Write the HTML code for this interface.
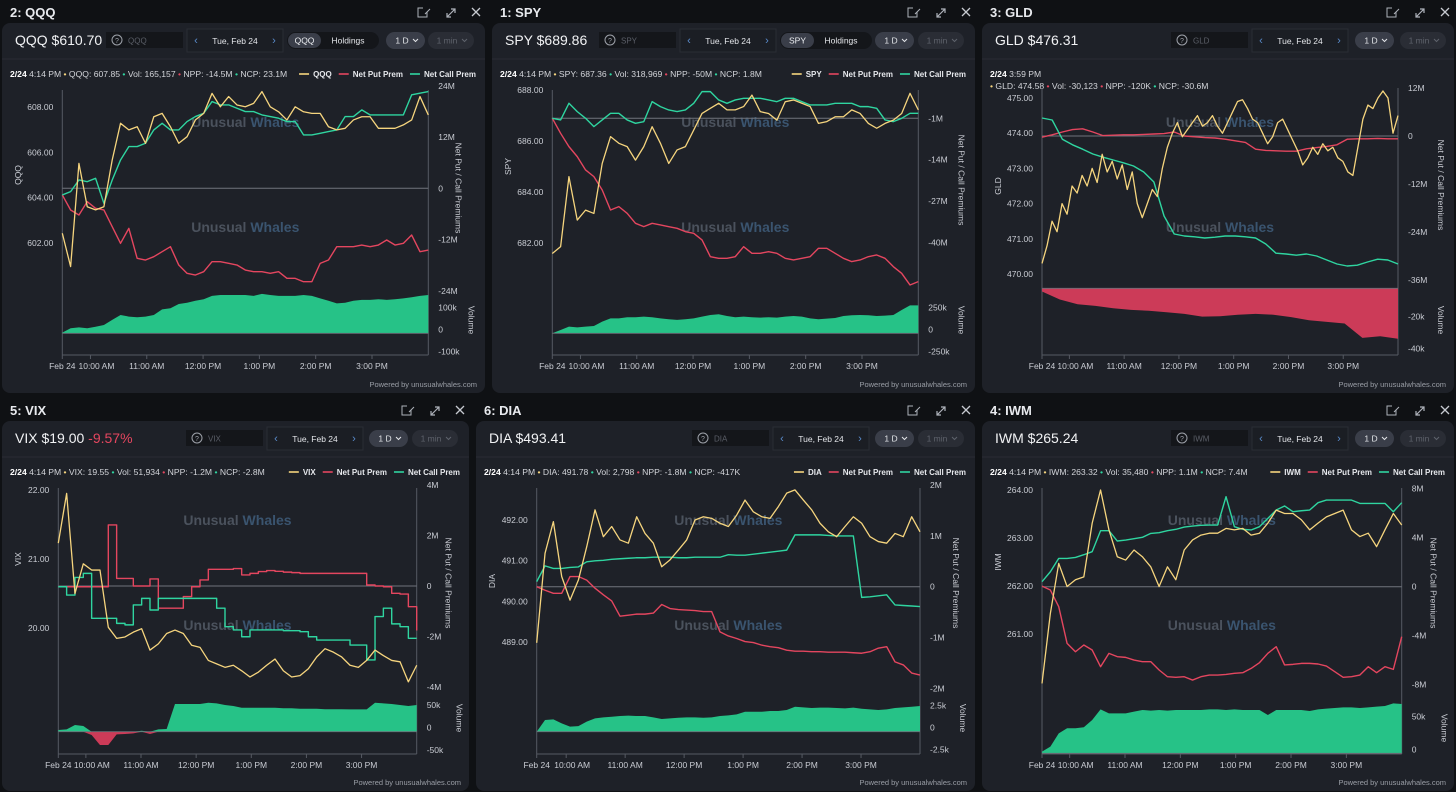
<!DOCTYPE html>
<html><head><meta charset="utf-8">
<style>
html,body{margin:0;padding:0;background:#0f1114;}
svg{display:block;font-family:"Liberation Sans",sans-serif;}
</style></head>
<body>
<svg id="root" width="1456" height="792" viewBox="0 0 1456 792" xmlns="http://www.w3.org/2000/svg">
<rect x="0" y="0" width="1456" height="792" fill="#0f1114"/>
</svg>
<script>
// ---------- DATA ----------
const timeTickMinutes = [600, 660, 720, 780, 840, 900];
const timeTickLabels = ["10:00 AM", "11:00 AM", "12:00 PM", "1:00 PM", "2:00 PM", "3:00 PM"];

const qqqPrice = [602.43,600.96,605.51,603.60,603.46,603.60,605.66,607.28,606.99,607.13,606.40,607.57,607.72,607.13,606.40,606.69,607.43,607.72,608.60,608.01,608.46,608.09,608.01,608.16,608.68,608.01,607.79,607.43,608.01,607.79,607.72,607.72,607.13,606.99,607.06,607.43,607.57,607.57,607.06,607.06,607.06,607.21,607.43,608.46,607.65];
const qqqNcp = [-1.56,-0.78,1.95,1.56,2.34,-3.52,1.95,6.64,9.77,9.77,10.55,13.67,15.23,13.67,13.67,15.63,16.80,17.58,20.31,19.53,19.53,18.75,17.97,17.97,17.19,16.80,16.41,15.63,15.63,12.5,12.5,12.89,13.28,13.67,16.80,16.80,18.36,17.19,17.19,17.19,17.19,17.19,21.88,22.27,22.66];
const qqqNpp = [-1.56,-5.08,-6.25,-3.13,-4.69,-5.08,-8.98,-12.89,-9.38,-16.41,-16.80,-16.02,-14.84,-13.67,-17.97,-19.92,-20.31,-19.53,-17.19,-17.19,-17.58,-17.97,-19.14,-19.53,-19.53,-19.92,-19.53,-21.09,-21.09,-21.88,-21.88,-17.58,-16.80,-13.67,-13.67,-13.67,-13.28,-13.67,-13.28,-12.11,-13.28,-12.89,-10.94,-14.84,-14.45];
const qqqVol = [3,23,27,23,30,38,61,83,76,73,76,83,109,114,133,139,148,155,170,174,174,174,174,170,179,174,170,170,170,174,170,159,148,136,139,148,152,152,155,152,155,159,164,170,174];

const spyPrice = [681.59,681.86,684.60,682.90,683.29,683.16,685.12,686.17,685.91,685.78,685.25,685.78,686.56,685.91,685.12,685.65,685.78,686.43,687.08,687.28,687.48,687.22,687.22,687.35,687.80,687.15,687.08,686.82,687.54,687.61,687.48,687.35,686.69,686.76,686.95,686.95,687.22,687.08,686.69,686.50,686.69,686.82,687.08,687.87,687.22];
const spyNcp = [-1,-1.52,3.72,1.10,-1,-3.62,-1.52,0.57,0.57,-1.52,-2.57,-2.05,4.24,2.67,1.62,1.10,1.62,3.72,7.39,7.39,4.77,3.72,4.77,5.29,5.29,5.29,4.77,4.24,5.29,5.29,4.24,3.19,3.19,3.19,3.72,3.72,3.72,2.67,2.67,2.14,-1.52,-2.05,-1,0.57,0.57];
const spyNpp = [-1,-5.72,-9.91,-13.05,-17.25,-19.34,-23.54,-29.83,-28.78,-30.87,-34.02,-35.07,-34.02,-34.54,-35.07,-35.59,-36.64,-37.16,-39.26,-44.50,-45.03,-45.03,-44.50,-41.36,-43.45,-43.45,-42.93,-43.45,-45.03,-45.55,-45.03,-44.50,-41.88,-41.88,-43.45,-45.03,-46.07,-45.55,-44.50,-43.98,-45.03,-47.65,-49.74,-53.41,-52.36];
const spyVol = [0,38,76,68,76,83,133,170,170,182,182,189,182,170,159,152,159,170,189,208,216,197,182,189,182,178,182,178,189,197,189,170,159,167,174,197,205,208,205,197,201,208,265,318,318];

const gldPrice = [470.3,470.8,471.5,471.2,472.0,471.7,472.5,472.3,472.8,472.5,473.0,472.6,473.4,472.9,473.2,472.7,473.1,472.4,472.9,472.0,471.6,472.0,472.4,472.2,473.0,473.6,474.0,474.3,473.9,474.1,474.3,474.5,474.2,474.3,474.5,474.2,474.0,474.3,474.6,474.9,474.95,474.7,474.4,474.3,474.0,473.7,473.9,474.3,474.4,474.1,473.8,473.5,473.1,473.3,473.6,473.4,473.7,473.5,473.6,473.3,473.2,472.9,472.8,473.6,474.4,474.8,474.7,475.0,475.2,475.0,474.0,474.5];
const gldNcp = [4.5,4,-0.8,-2.2,-3.3,-4.5,-5.3,-6,-6.7,-7.5,-9,-11.5,-20,-24.5,-25,-25.2,-25.5,-25.3,-25,-25,-25.2,-25.5,-27,-29.3,-29.5,-29.8,-29.5,-30,-31,-32,-32.5,-32.3,-31.5,-30.8,-31,-32];
const gldNpp = [-0.3,0.3,1,1.6,1.8,1,0.1,0.2,0.3,0.3,0.4,0.5,0.6,1.0,0,-0.2,-0.4,-0.5,-0.8,-1.2,-1.6,-3.3,-3.6,-3.7,-3.8,-3.8,-3.2,-2.9,-2.6,-2.2,-0.8,-0.7,-0.7,-0.6,-0.7,-0.7];
const gldVol = [-2,-7,-10,-11,-12.5,-13.5,-14,-15,-16,-17.7,-17.5,-16.5,-16,-16.5,-18,-20,-21,-22,-31,-30,-31.5];

const vixPrice = [21.23,21.95,20.50,20.93,20.84,20.84,20.01,19.85,19.87,19.94,19.99,19.68,19.77,19.92,19.97,19.92,19.75,19.72,19.53,19.48,19.43,19.46,19.38,19.29,19.36,19.46,19.55,19.38,19.29,19.31,19.41,19.58,19.70,19.65,19.58,19.46,19.43,19.53,19.68,19.60,19.53,19.51,19.22,19.46];
const vixNpp = [-0.03,-0.03,-0.03,-0.03,-0.03,-0.03,2.42,0.30,0.30,0,0,0.28,-0.88,-0.88,-0.88,-0.42,-0.03,0.24,0.66,0.66,0.66,0.69,0.44,0.50,0.57,0.61,0.58,0.55,0.53,0.50,0.50,0.50,0.50,0.50,0.50,0.50,0.50,0.04,0,-0.03,-0.29,-0.32,-0.82,-1.76];
const vixNcp = [-0.03,-0.36,0.34,0.50,-1.28,-1.28,-1.28,-1.48,-1.54,-0.75,-0.49,-0.95,-0.49,-0.49,-0.49,-0.49,-0.49,-0.49,-0.49,-0.88,-1.61,-1.74,-2.01,-1.74,-1.74,-1.74,-1.74,-1.77,-1.77,-1.81,-2.01,-2.14,-2.14,-2.14,-2.14,-2.34,-2.34,-2.93,-1.21,-0.88,-1.50,-1.61,-2.07,-2.07];
const vixVol = [3.7,5.2,14.8,12.6,-7.4,-29.6,-29.6,-6,-5.2,-3.7,2.2,-5.2,5.2,5.9,61.5,61.5,61.5,61.5,64.4,63,59.3,57,53.3,53.3,53.3,53.3,53.3,52,52,51,51,51,50,50,50,49.6,49.6,49.6,64.4,63,61.5,59.3,57,59.3];

const diaPrice = [488.98,491.18,491.96,490.61,490.03,490.52,491.34,492.25,491.59,491.84,491.51,491.43,492.08,491.67,491.43,490.85,491.02,491.26,491.51,492.0,492.08,492.04,491.92,491.84,492.12,492.49,492.2,492.08,492.04,492.33,492.66,492.74,492.49,492.25,491.92,491.71,491.59,491.84,492.08,491.92,491.59,491.47,491.43,491.67,491.59,492.08,491.71];
const diaNcp = [0.10,0.41,0.36,0.36,0.38,0.39,0.49,0.51,0.52,0.54,0.55,0.56,0.57,0.57,0.58,0.58,0.58,0.57,0.57,0.58,0.58,0.58,0.58,0.63,0.62,0.62,0.64,0.66,0.68,0.70,0.72,1.02,1.02,1.02,1.02,1.01,1.00,1.00,1.00,-0.21,-0.20,-0.18,-0.16,-0.36,-0.37,-0.38,-0.39];
const diaNpp = [0,-0.07,-0.13,-0.13,0.20,0.20,0.13,-0.03,-0.16,-0.28,-0.58,-0.56,-0.54,-0.54,-0.52,-0.35,-0.43,-0.45,-0.46,-0.47,-0.49,-0.49,-0.89,-0.97,-1.02,-1.08,-1.10,-1.15,-1.18,-1.20,-1.25,-1.27,-1.27,-1.28,-1.28,-1.29,-1.29,-1.29,-1.30,-1.31,-1.28,-1.21,-1.18,-1.48,-1.54,-1.70,-1.74];
const diaVol = [0,1.33,1.40,0.95,0.57,0.64,1.14,1.52,1.63,1.70,1.78,1.82,1.78,1.78,1.63,1.44,1.52,1.59,1.63,1.63,1.59,1.63,1.78,1.86,1.97,2.27,2.27,2.27,2.35,2.35,2.46,2.84,2.77,2.69,2.73,2.73,2.69,2.65,2.73,2.61,2.54,2.46,2.54,2.69,2.77,2.84,2.92];

const iwmPrice = [259.97,261.43,262.47,261.99,262.13,262.19,263.31,264.0,263.17,262.61,262.54,262.75,262.61,262.40,261.99,262.40,262.13,262.75,262.96,263.06,263.10,263.10,263.20,263.17,263.20,263.06,263.10,263.31,263.58,263.51,263.51,263.38,263.17,263.31,263.44,263.51,263.58,263.17,263.03,263.10,262.82,263.17,263.51,263.27];
const iwmNcp = [0.41,1.22,2.31,2.31,2.39,2.61,2.86,4.57,4.57,3.73,3.81,3.92,4.03,4.35,4.41,4.57,4.68,4.87,4.95,5.01,5.03,5.03,7.35,4.90,4.68,4.63,4.90,5.58,6.26,6.59,6.12,6.20,6.26,6.86,7.07,7.07,7.07,7.07,6.80,6.80,6.80,6.80,6.12,6.86];
const iwmNpp = [0.05,-0.27,-1.63,-4.63,-5.31,-4.76,-5.17,-6.53,-5.44,-5.71,-5.77,-5.99,-6.12,-6.12,-6.80,-7.35,-7.40,-7.35,-7.62,-7.35,-7.21,-7.21,-7.16,-7.07,-7.02,-6.67,-6.20,-5.44,-4.90,-6.39,-6.34,-6.26,-6.26,-6.31,-6.48,-6.94,-7.40,-7.35,-7.21,-6.53,-7.02,-6.53,-6.75,-4.08];
const iwmVol = [2.6,10.2,30.6,38.3,38.3,39.8,51,67.3,61.2,61.2,61.2,63.8,66.3,65.3,66.3,65.3,66.3,66.3,66.3,66.3,67.3,67.3,66.3,67.3,66.3,66.3,66.3,58.7,66.3,66.3,66.3,66.3,64.8,67.3,68.4,69.4,70.4,70.4,69.4,70.4,71.4,72.4,76.5,75.5];

const qqqPriceTicks=[608,606,604,602], qqqPremTicks=[24,12,0,-12,-24], qqqVolTicks=[100,0,-100];
const spyPriceTicks=[688,686,684,682], spyPremTicks=[-1,-14,-27,-40], spyVolTicks=[250,0,-250];
const gldPriceTicks=[475,474,473,472,471,470], gldPremTicks=[12,0,-12,-24,-36], gldVolTicks=[-20,-40];
const vixPriceTicks=[22,21,20], vixPremTicks=[4,2,0,-2,-4], vixVolTicks=[50,0,-50];
const diaPriceTicks=[492,491,490,489], diaPremTicks=[2,1,0,-1,-2], diaVolTicks=[2.5,0,-2.5];
const iwmPriceTicks=[264,263,262,261], iwmPremTicks=[8,4,0,-4,-8], iwmVolTicks=[50,0];

// ---------- RENDER ----------
const NS='http://www.w3.org/2000/svg';
const root=document.getElementById('root');
const YEL='#f6d57e', RED='#e4465f', GRN='#2fd5a0', VOLG='#26c287', VOLR='#cc3b58', AX='#565a63', TXT='#c9ccd3';
function mk(tag, attrs, parent, text){
  const e=document.createElementNS(NS,tag);
  for(const k in attrs) e.setAttribute(k, attrs[k]);
  if(text!==undefined) e.textContent=text;
  (parent||root).appendChild(e);
  return e;
}
function scale(v1,y1,v2,y2){ return v => y1 + (v-v1)*(y2-y1)/(v2-v1); }

const panels=[
 {id:'qqq',px:0,py:0,w:487,title:'2: QQQ',tk:'QQQ',pr:'$610.70',x0:62.3,x1:428.3,top:90,bot:355,
  search:106,date:187,toggle:287,d1:386,mn:428,
  info:[['2/24',1],[' 4:14 PM '],['•',YEL],[' QQQ: 607.85 '],['•',GRN],[' Vol: 165,157 '],['•',RED],[' NPP: -14.5M '],['•',GRN],[' NCP: 23.1M']],
  price:qqqPrice,ncp:qqqNcp,npp:qqqNpp,vol:qqqVol,pT:qqqPriceTicks,mT:qqqPremTicks,vT:qqqVolTicks,
  ps:scale(608,107,602,243),ms:scale(0,188.3,1,184.03),vs:scale(0,333.3,1,333.08),zero:0,premMid:188,volMid:320,premTitleDx:27},
 {id:'spy',px:490,py:0,w:487,title:'1: SPY',tk:'SPY',pr:'$689.86',x0:552.3,x1:918.3,top:90,bot:355,
  search:599,date:680,toggle:780,d1:875,mn:918,
  info:[['2/24',1],[' 4:14 PM '],['•',YEL],[' SPY: 687.36 '],['•',GRN],[' Vol: 318,969 '],['•',RED],[' NPP: -50M '],['•',GRN],[' NCP: 1.8M']],
  price:spyPrice,ncp:spyNcp,npp:spyNpp,vol:spyVol,pT:spyPriceTicks,mT:spyPremTicks,vT:spyVolTicks,
  ps:scale(688,90,682,243),ms:scale(-1,118.3,0,115.12),vs:scale(0,333.3,1,333.212),zero:-1,premMid:180,volMid:320,premTitleDx:40},
 {id:'gld',px:980,py:0,w:476,title:'3: GLD',tk:'GLD',pr:'$476.31',x0:1042,x1:1398,top:88,bot:355,
  search:1171,date:1252,d1:1355,mn:1400,
  info2:true,
  info:[['•',YEL],[' GLD: 474.58 '],['•',RED],[' Vol: -30,123 '],['•',RED],[' NPP: -120K '],['•',GRN],[' NCP: -30.6M']],
  price:gldPrice,ncp:gldNcp,npp:gldNpp,vol:gldVol,pT:gldPriceTicks,mT:gldPremTicks,vT:gldVolTicks,
  ps:scale(475,98,470,274),ms:scale(0,136,1,132),vs:scale(0,288.3,1,286.7),zero:0,premMid:185,volMid:320,premTitleDx:40},
 {id:'vix',px:0,py:398,w:471,title:'5: VIX',tk:'VIX',pr:'$19.00',chg:'-9.57%',x0:58.3,x1:416.7,top:488,bot:754,
  search:186,date:267,d1:369,mn:412,step:true,
  info:[['2/24',1],[' 4:14 PM '],['•',YEL],[' VIX: 19.55 '],['•',GRN],[' Vol: 51,934 '],['•',RED],[' NPP: -1.2M '],['•',GRN],[' NCP: -2.8M']],
  price:vixPrice,ncp:vixNcp,npp:vixNpp,vol:vixVol,pT:vixPriceTicks,mT:vixPremTicks,vT:vixVolTicks,
  ps:scale(22,490,20,628),ms:scale(0,586,1,560.75),vs:scale(0,731.7,1,731.25),zero:0,premMid:583,volMid:718,premTitleDx:29},
 {id:'dia',px:474,py:398,w:503,title:'6: DIA',tk:'DIA',pr:'$493.41',x0:536.7,x1:920,top:488,bot:754,
  search:692,date:773,d1:875,mn:918,
  info:[['2/24',1],[' 4:14 PM '],['•',YEL],[' DIA: 491.78 '],['•',GRN],[' Vol: 2,798 '],['•',RED],[' NPP: -1.8M '],['•',GRN],[' NCP: -417K']],
  price:diaPrice,ncp:diaNcp,npp:diaNpp,vol:diaVol,pT:diaPriceTicks,mT:diaPremTicks,vT:diaVolTicks,
  ps:scale(492,520,489,642),ms:scale(0,586.7,1,535.9),vs:scale(0,731.7,1,722.9),zero:0,premMid:583,volMid:718,premTitleDx:33},
 {id:'iwm',px:980,py:398,w:476,title:'4: IWM',tk:'IWM',pr:'$265.24',x0:1042,x1:1401.7,top:488,bot:754,
  search:1171,date:1252,d1:1355,mn:1400,
  info:[['2/24',1],[' 4:14 PM '],['•',YEL],[' IWM: 263.32 '],['•',GRN],[' Vol: 35,480 '],['•',RED],[' NPP: 1.1M '],['•',GRN],[' NCP: 7.4M']],
  price:iwmPrice,ncp:iwmNcp,npp:iwmNpp,vol:iwmVol,pT:iwmPriceTicks,mT:iwmPremTicks,vT:iwmVolTicks,
  ps:scale(264,490,261,634),ms:scale(0,586.7,1,574.45),vs:scale(0,753.3,1,752.647),zero:0,premMid:583,volMid:728,premTitleDx:29}
];

function fmtPrem(v){ return v===0?'0':(v+'M'); }
function fmtVol(v){ return v===0?'0':(v+'k'); }

panels.forEach(P=>{
  const g=mk('g',{});
  
  
  const px=P.px, py=P.py, w=P.w, x0=P.x0, x1=P.x1;
  const xs = (i,n) => x0 + i*(x1-x0)/(n-1);
  const xt = m => x0 + (m-570)*(x1-x0)/390;

  const tt=mk('text',{x:px+10,y:py+17,fill:'#e8eaee','font-size':13,'font-weight':'bold'},g,P.title);
  
  
  const ic1=mk('path',{d:`M${px+w-64} ${py+8}h-5v9h9v-5 M${px+w-62} ${py+14}l5-5`,stroke:'#aeb2ba','stroke-width':1,fill:'none'},g);
  
  
  const ic2=mk('path',{d:`M${px+w-40} ${py+17}l8-8 M${px+w-40} ${py+13}v4h4 M${px+w-36} ${py+9}h4v4`,stroke:'#aeb2ba','stroke-width':1.2,fill:'none'},g);
  
  
  const ic3=mk('path',{d:`M${px+w-15} ${py+8}l8 8 M${px+w-7} ${py+8}l-8 8`,stroke:'#c7cad0','stroke-width':1.3,fill:'none'},g);
  
  

  const card=mk('rect',{x:px+2,y:py+23,width:w-4,height:370,rx:8,fill:'#1e2128'},g);
  
  
  mk('line',{x1:px+2,x2:px+w-2,y1:py+59,y2:py+59,stroke:'#292c34'},g);

  const hy=py+45;
  const tk=mk('text',{x:px+15,y:hy,fill:'#f1f2f4','font-size':14},g);
  
  
  mk('tspan',{},tk,P.tk+'  '+P.pr);
  if(P.chg){ mk('tspan',{fill:'#e4465f'},tk,'  '+P.chg); }

  const sb=mk('rect',{x:P.search,y:py+32,width:77,height:16,fill:'#14161a'},g);
  
  
  mk('circle',{cx:P.search+11,cy:py+40,r:5,fill:'none',stroke:'#9da1a9','stroke-width':1},g);
  mk('text',{x:P.search+11,y:py+43,'font-size':7,fill:'#9da1a9','text-anchor':'middle'},g,'?');
  mk('text',{x:P.search+22,y:py+43.5,'font-size':8,fill:'#5b5f68'},g,P.tk);

  const db=mk('rect',{x:P.date,y:py+29,width:96,height:23,fill:'#1b1e24',stroke:'#2a2d35'},g);
  
  
  const dl=mk('text',{x:P.date+9,y:py+44,'font-size':11,fill:'#5a8ccc','text-anchor':'middle'},g,'‹');
  
  
  mk('text',{x:P.date+48,y:py+44,'font-size':8.5,fill:'#e3e5e9','text-anchor':'middle'},g,'Tue, Feb 24');
  const dr=mk('text',{x:P.date+87,y:py+44,'font-size':11,fill:'#5a8ccc','text-anchor':'middle'},g,'›');
  
  

  if(P.toggle){
    mk('rect',{x:P.toggle,y:py+32,width:92,height:17,rx:8.5,fill:'#14161a'},g);
    const a=mk('rect',{x:P.toggle+1,y:py+33,width:33,height:15,rx:7.5,fill:'#3a3e49'},g);
    
    
    mk('text',{x:P.toggle+17.5,y:py+43.5,'font-size':8.5,fill:'#eceef1','text-anchor':'middle'},g,P.tk);
    const h=mk('text',{x:P.toggle+61,y:py+43.5,'font-size':8.5,fill:'#e3e5e9','text-anchor':'middle'},g,'Holdings');
    
    
  }
  const d1=mk('rect',{x:P.d1,y:py+32,width:39,height:17,rx:8.5,fill:'#3a3e49'},g);
  
  
  mk('text',{x:P.d1+16,y:py+43.5,'font-size':8.5,fill:'#e3e5e9','text-anchor':'middle'},g,'1 D');
  mk('path',{d:`M${P.d1+27} ${py+39}l2.5 2.5l2.5-2.5`,stroke:'#e3e5e9',fill:'none','stroke-width':1},g);
  const mn=mk('rect',{x:P.mn,y:py+32,width:46,height:17,rx:8.5,fill:'#2a2d35'},g);
  
  
  mk('text',{x:P.mn+19,y:py+43.5,'font-size':8.5,fill:'#5f636c','text-anchor':'middle'},g,'1 min');
  mk('path',{d:`M${P.mn+34} ${py+39}l2.5 2.5l2.5-2.5`,stroke:'#5f636c',fill:'none','stroke-width':1},g);

  let info;
  if(P.info2){
    const d=mk('text',{x:px+10,y:py+77,'font-size':8.6,fill:'#d3d5da'},g);
    
    
    mk('tspan',{'font-weight':'bold',fill:'#fff'},d,'2/24');
    mk('tspan',{},d,' 3:59 PM');
    info=mk('text',{x:px+10,y:py+89,'font-size':8.6,fill:'#d3d5da'},g);
  } else {
    info=mk('text',{x:px+10,y:py+77,'font-size':8.6,fill:'#d3d5da'},g);
  }
  
  
  P.info.forEach(s=>{
    const t=mk('tspan',{},info,s[0]);
    if(s[1]===1){ t.setAttribute('font-weight','bold'); t.setAttribute('fill','#fff'); }
    else if(s[1]) t.setAttribute('fill',s[1]);
  });

  if(!P.info2){
    const items=[[P.tk,YEL],['Net Put Prem',RED],['Net Call Prem',GRN]];
    let rx=px+w-11;
    for(let k=items.length-1;k>=0;k--){
      const t=mk('text',{x:rx,y:py+77,'font-size':8,'font-weight':'bold',fill:'#e6e8ec','text-anchor':'end'},g,items[k][0]);
      
      
      const tw=t.getComputedTextLength();
      mk('line',{x1:rx-tw-14,x2:rx-tw-4,y1:py+74,y2:py+74,stroke:items[k][1],'stroke-width':1.6},g);
      rx=rx-tw-21;
    }
  }

  [py+127,py+232].forEach(wy=>{
    const wm=mk('text',{x:(x0+x1)/2,y:wy,'font-size':14,'font-weight':'bold','text-anchor':'middle'},g);
    
    
    mk('tspan',{fill:'#4b525d'},wm,'Unusual ');
    mk('tspan',{fill:'#3a546f'},wm,'Whales');
  });

  mk('line',{x1:x0,x2:x0,y1:P.top,y2:P.bot,stroke:AX},g);
  mk('line',{x1:x1,x2:x1,y1:P.top,y2:P.bot,stroke:AX},g);
  mk('line',{x1:x0,x2:x1,y1:P.bot,y2:P.bot,stroke:AX},g);
  const zl=mk('line',{x1:x0,x2:x1,y1:P.ms(P.zero),y2:P.ms(P.zero),stroke:'#70747c','stroke-width':1},g);
  
  

  P.pT.forEach(v=>{
    const t=mk('text',{x:x0-9,y:P.ps(v)+3,'font-size':8.5,fill:TXT,'text-anchor':'end'},g,v.toFixed(2));
    
    
  });
  P.mT.forEach(v=>{
    const t=mk('text',{x:x1+10,y:P.ms(v)+3,'font-size':8.5,fill:TXT},g,fmtPrem(v));
    
    
  });
  P.vT.forEach(v=>{
    const t=mk('text',{x:x1+10,y:P.vs(v)-1,'font-size':8.5,fill:TXT},g,fmtVol(v));
    
    
  });
  const lt=mk('text',{x:0,y:0,'font-size':8.5,fill:TXT,'text-anchor':'middle',transform:`translate(${px+21},${P.ps((P.pT[0]+P.pT[P.pT.length-1])/2)}) rotate(-90)`},g,P.tk);
  
  
  const rt=mk('text',{x:0,y:0,'font-size':8.5,fill:TXT,'text-anchor':'middle',transform:`translate(${x1+P.premTitleDx},${P.premMid}) rotate(90)`},g,'Net Put / Call Premiums');
  
  
  const vt=mk('text',{x:0,y:0,'font-size':8.5,fill:TXT,'text-anchor':'middle',transform:`translate(${x1+40},${P.volMid}) rotate(90)`},g,'Volume');
  
  

  const fx=mk('text',{x:x0,y:P.bot+14,'font-size':8.5,fill:TXT,'text-anchor':'middle'},g,'Feb 24');
  
  
  mk('line',{x1:x0,x2:x0,y1:P.bot,y2:P.bot+4,stroke:AX},g);
  timeTickMinutes.forEach((m,i)=>{
    const x=xt(m);
    mk('line',{x1:x,x2:x,y1:P.bot,y2:P.bot+4,stroke:AX},g);
    const t=mk('text',{x:i===0?x+6:x,y:P.bot+14,'font-size':8.5,fill:TXT,'text-anchor':'middle'},g,timeTickLabels[i]);
    
    
  });

  const base=P.vs(0);
  function areaPath(vals){
    const n=vals.length; let d=`M${xs(0,n)} ${base}`;
    vals.forEach((v,i)=>{ d+=` L${xs(i,n)} ${P.vs(v)}`; });
    d+=` L${xs(n-1,n)} ${base} Z`; return d;
  }
  const posA=mk('path',{d:areaPath(P.vol.map(v=>Math.max(v,0))),fill:VOLG},g);
  
  
  const negA=mk('path',{d:areaPath(P.vol.map(v=>Math.min(v,0))),fill:VOLR},g);
  
  
  mk('line',{x1:x0,x2:x1,y1:base,y2:base,stroke:'#6c7078','stroke-width':0.8},g);

  function stepPath(vals,sc){
    const n=vals.length; let d=`M${xs(0,n)} ${sc(vals[0])}`;
    for(let i=1;i<n;i++){ d+=` H${xs(i,n)} V${sc(vals[i])}`; }
    return d;
  }
  function linePath(vals,sc){
    const n=vals.length;
    return vals.map((v,i)=>(i?'L':'M')+xs(i,n)+' '+sc(v)).join(' ');
  }
  const premPath = P.step ? stepPath : linePath;
  const pn=mk('path',{d:premPath(P.npp,P.ms),stroke:RED,'stroke-width':1.4,fill:'none','stroke-linejoin':'round'},g);
  
  
  const pc=mk('path',{d:premPath(P.ncp,P.ms),stroke:GRN,'stroke-width':1.4,fill:'none','stroke-linejoin':'round'},g);
  
  
  const pp=mk('path',{d:linePath(P.price,P.ps),stroke:YEL,'stroke-width':1.3,fill:'none','stroke-linejoin':'round'},g);
  
  

  const pw=mk('text',{x:px+w-10,y:py+387,'font-size':7.5,fill:'#9a9ea6','text-anchor':'end'},g,'Powered by unusualwhales.com');
  
  
});
</script>
</body></html>
